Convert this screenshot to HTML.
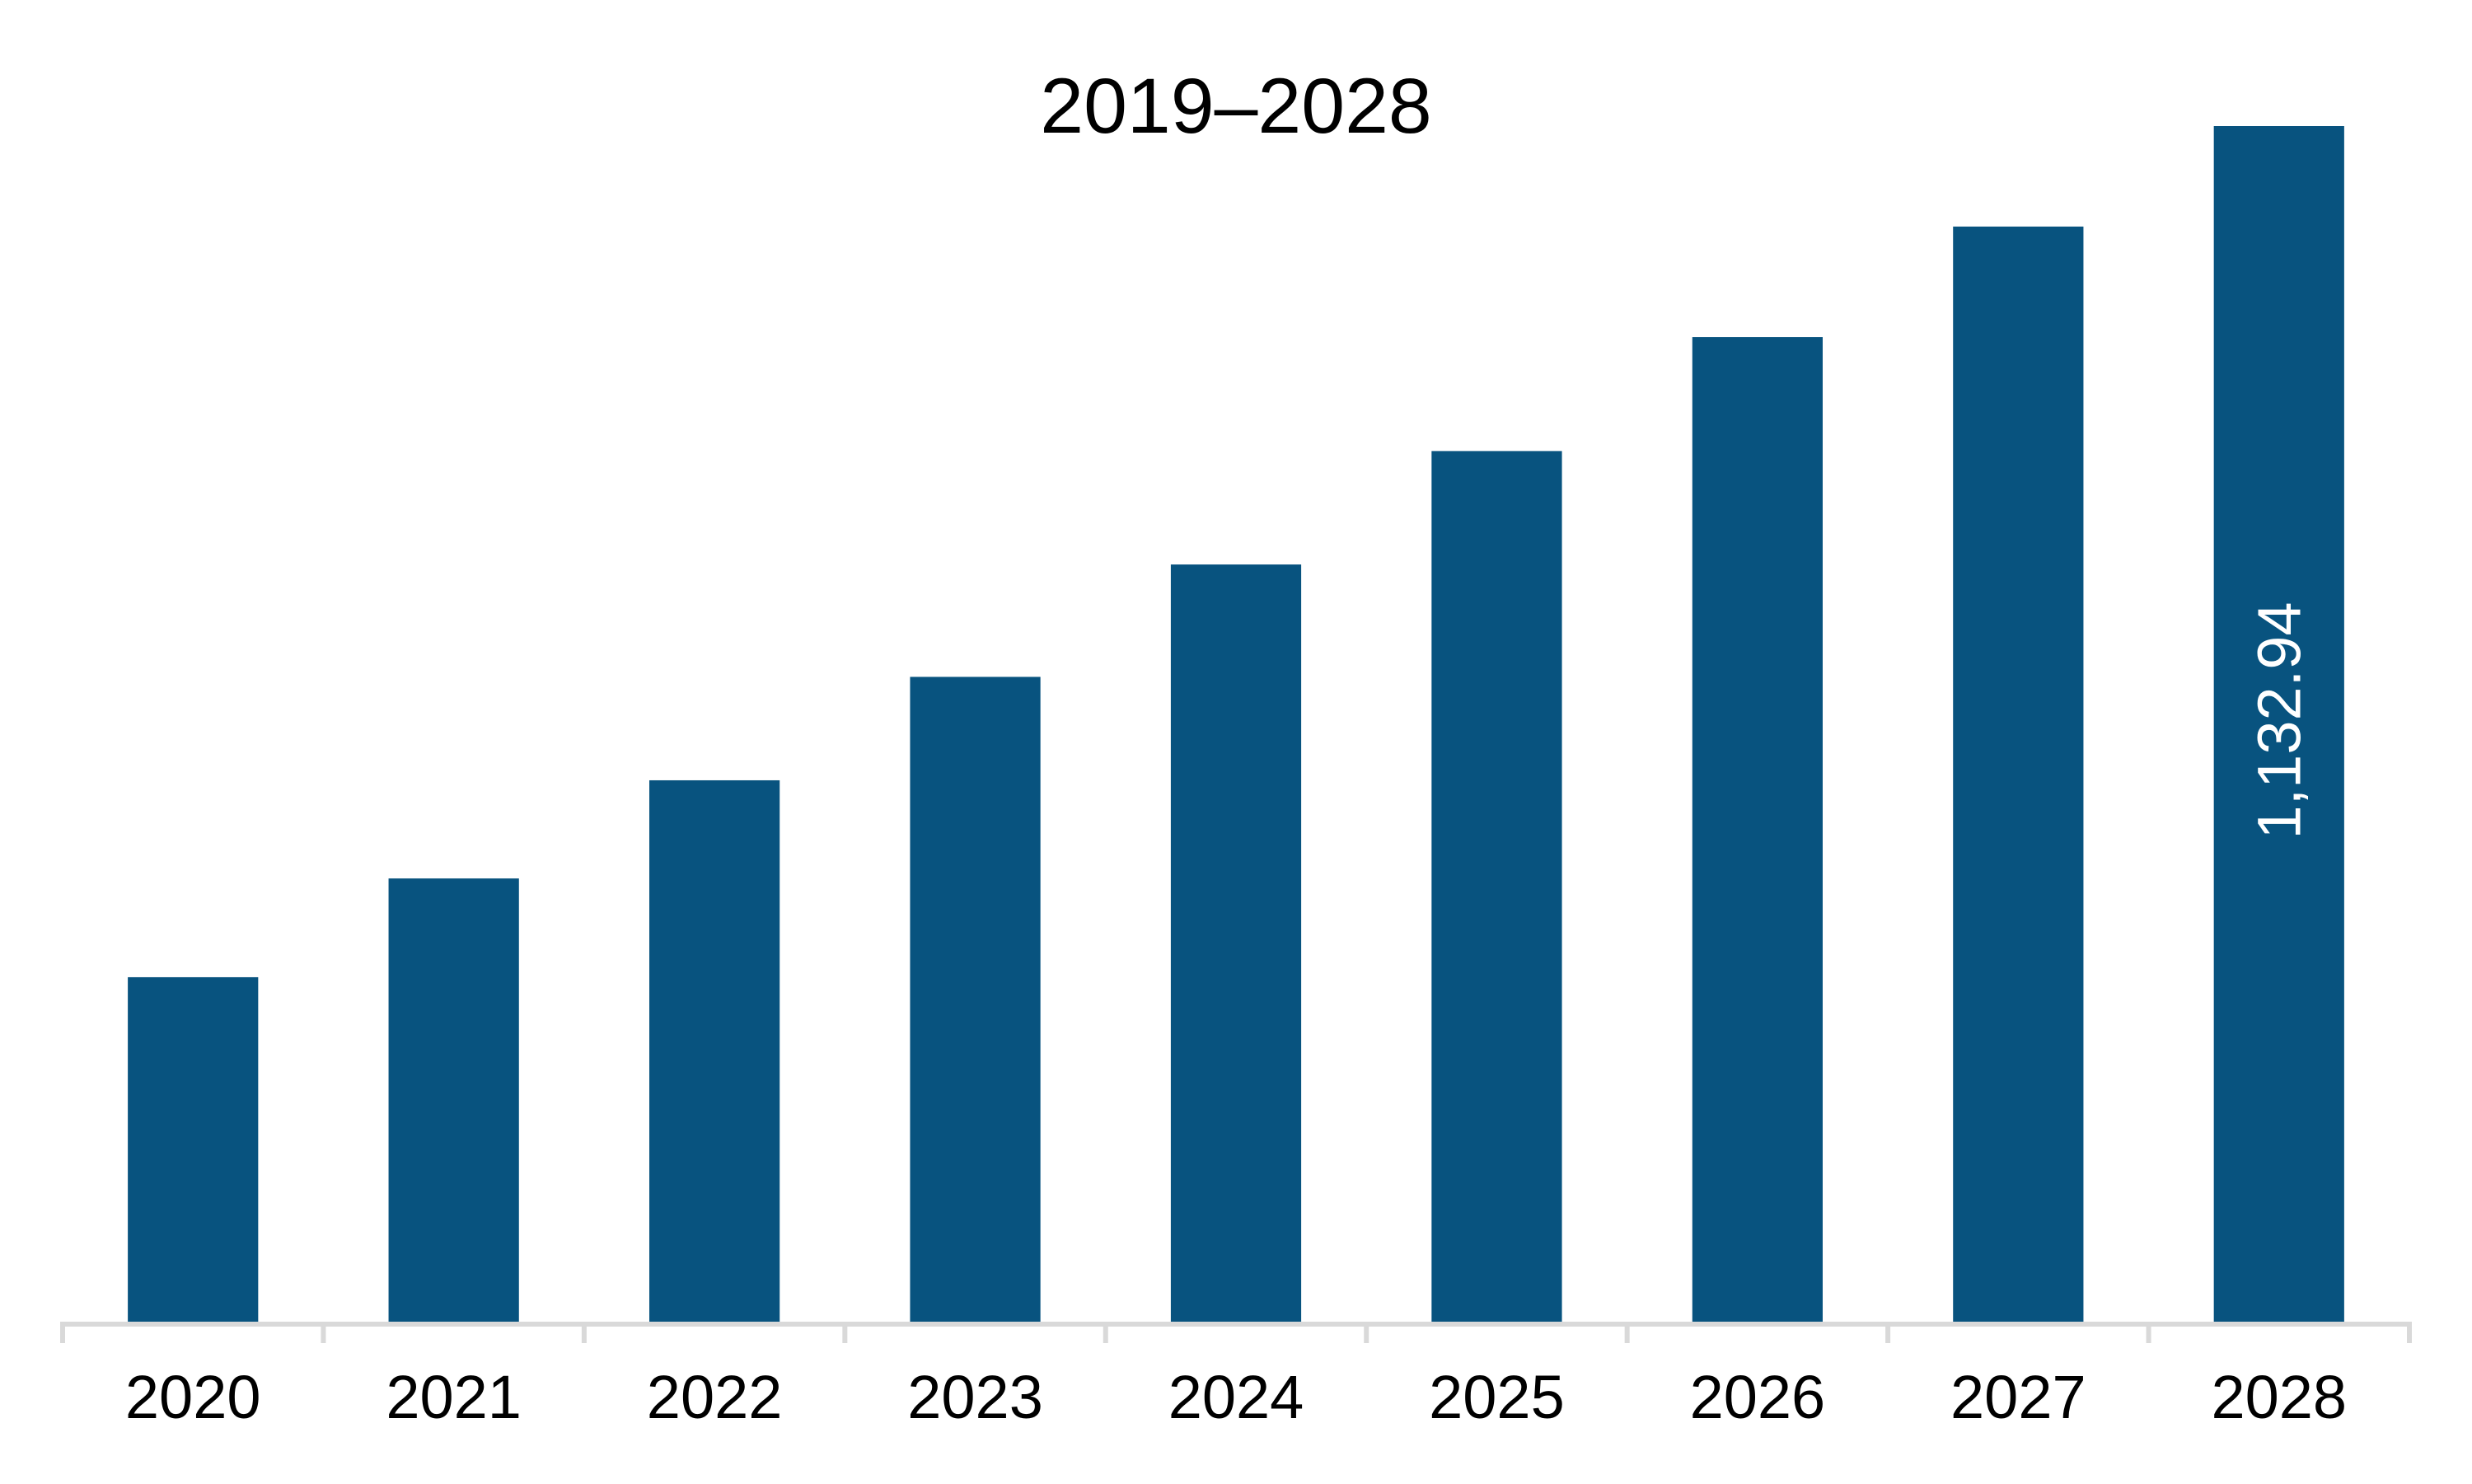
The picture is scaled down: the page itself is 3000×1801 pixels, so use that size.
<!DOCTYPE html>
<html><head><meta charset="utf-8"><style>
html,body{margin:0;padding:0;background:#fff;}
svg{display:block;}
text{font-family:"Liberation Sans",sans-serif;}
</style></head><body>
<svg id="chart" width="3000" height="1801" viewBox="0 0 3000 1801" xmlns="http://www.w3.org/2000/svg">
<rect width="3000" height="1801" fill="#ffffff"/>
<text x="1500" y="161" font-size="95" text-anchor="middle" fill="#000">2019–2028</text>
<g id="bars"></g>
<g id="axis"></g>
</svg>
<script>
const categories = ["2020","2021","2022","2023","2024","2025","2026","2027","2028"];
const values = [326.4, 420.0, 513.0, 611.0, 717.5, 825.0, 933.0, 1037.7, 1132.94];
const valueLabels = ["", "", "", "", "", "", "", "", "1,132.94"];

const NS = "http://www.w3.org/2000/svg";
const x0 = 76, x1 = 2924, baseY = 1604;
const pxPerUnit = 1451 / 1132.94;
const band = (x1 - x0) / categories.length;
function xScale(i){ return x0 + band * i; }
function yScale(v){ return baseY - v * pxPerUnit; }

const bars = document.getElementById('bars');
const axis = document.getElementById('axis');
categories.forEach((c, i) => {
  const w = band * 0.5;
  const bx = xScale(i) + (band - w) / 2;
  const r = document.createElementNS(NS, 'rect');
  
  
  r.setAttribute('x', bx);
  r.setAttribute('y', yScale(values[i]));
  r.setAttribute('width', w);
  r.setAttribute('height', baseY - yScale(values[i]));
  r.setAttribute('fill', '#08537f');
  bars.appendChild(r);
  if (valueLabels[i]) {
    const cx = bx + w / 2, cy = (yScale(values[i]) + baseY) / 2 - 4;
    const t = document.createElementNS(NS, 'text');
    
    
    t.setAttribute('x', cx);
    t.setAttribute('y', cy);
    t.setAttribute('font-size', '74');
    t.setAttribute('fill', '#ffffff');
    t.setAttribute('text-anchor', 'middle');
    t.setAttribute('dominant-baseline', 'central');
    t.setAttribute('transform', 'rotate(-90 ' + cx + ' ' + cy + ')');
    t.textContent = valueLabels[i];
    bars.appendChild(t);
  }
  const lbl = document.createElementNS(NS, 'text');
  
  
  lbl.setAttribute('x', xScale(i) + band / 2);
  lbl.setAttribute('y', 1721);
  lbl.setAttribute('font-size', '74');
  lbl.setAttribute('text-anchor', 'middle');
  lbl.setAttribute('fill', '#000');
  lbl.textContent = c;
  axis.appendChild(lbl);
});
for (let i = 0; i <= categories.length; i++) {
  const tk = document.createElementNS(NS, 'line');
  
  
  tk.setAttribute('x1', xScale(i)); tk.setAttribute('x2', xScale(i));
  tk.setAttribute('y1', baseY); tk.setAttribute('y2', 1630);
  tk.setAttribute('stroke', '#d9d9d9'); tk.setAttribute('stroke-width', '6');
  axis.appendChild(tk);
}
const ax = document.createElementNS(NS, 'line');


ax.setAttribute('x1', x0 - 3); ax.setAttribute('x2', x1 + 3);
ax.setAttribute('y1', baseY + 3); ax.setAttribute('y2', baseY + 3);
ax.setAttribute('stroke', '#d9d9d9'); ax.setAttribute('stroke-width', '6');
axis.appendChild(ax);
</script>
</body></html>
